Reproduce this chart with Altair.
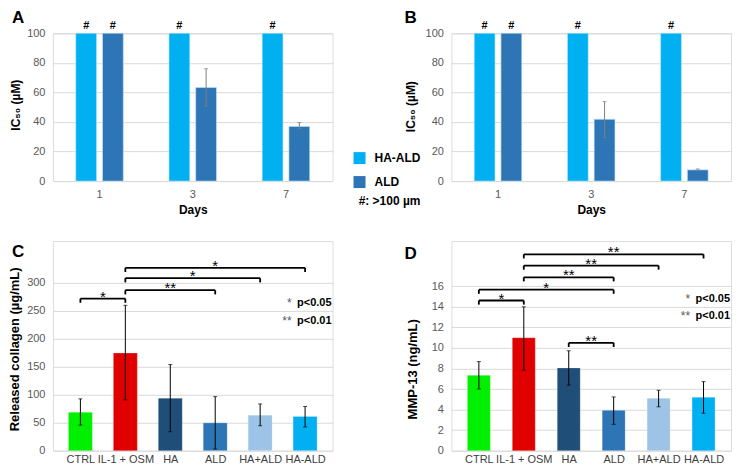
import json
import altair as alt
import pandas as pd

FONT = "Liberation Sans"

# ---------------- Panels A / B : IC50 ----------------
days = ["1", "3", "7"]
series = ["HA-ALD", "ALD"]
series_colors = ["#00B0F0", "#2E75B6"]
ic50_ticks = [0, 20, 40, 60, 80, 100]

a_haald = [100, 100, 100]
a_ald = [100, 63.3, 37.0]
a_ald_lo = [None, 50.8, 35.4]
a_ald_hi = [None, 76.0, 39.6]
a_flag_haald = ["#", "#", "#"]
a_flag_ald = ["#", "", ""]

b_haald = [100, 100, 100]
b_ald = [100, 41.8, 7.6]
b_ald_lo = [None, 29.6, 6.9]
b_ald_hi = [None, 53.8, 8.2]
b_flag_haald = ["#", "#", "#"]
b_flag_ald = ["#", "", ""]

# ---------------- Panels C / D : treatments ----------------
treatments = ["CTRL", "IL-1 + OSM", "HA", "ALD", "HA+ALD", "HA-ALD"]
treat_colors = ["#00F000", "#E00000", "#1F4E79", "#2E75B6", "#9DC3E6", "#00B0F0"]

collagen = [68.7, 174.6, 93.9, 49.8, 63.5, 61.2]
collagen_lo = [45.8, 91.0, 34.0, 3.0, 44.6, 42.4]
collagen_hi = [92.7, 260.0, 154.0, 96.7, 83.6, 79.0]
collagen_ticks = [0, 50, 100, 150, 200, 250, 300]

mmp13 = [7.33, 10.99, 8.05, 3.93, 5.10, 5.20]
mmp13_lo = [6.00, 7.83, 6.38, 2.57, 4.27, 3.65]
mmp13_hi = [8.67, 14.00, 9.72, 5.23, 5.88, 6.72]
mmp13_ticks = [0, 2, 4, 6, 8, 10, 12, 14, 16]

c_br_from = ["CTRL", "IL-1 + OSM", "IL-1 + OSM", "IL-1 + OSM"]
c_br_to = ["IL-1 + OSM", "ALD", "HA+ALD", "HA-ALD"]
c_br_level = [272, 287, 308.5, 327]
c_br_label = ["*", "**", "*", "*"]

d_br_from = ["CTRL", "CTRL", "IL-1 + OSM", "IL-1 + OSM", "IL-1 + OSM", "HA"]
d_br_to = ["IL-1 + OSM", "ALD", "ALD", "HA+ALD", "HA-ALD", "ALD"]
d_br_level = [14.61, 15.66, 16.87, 18.01, 19.1, 10.49]
d_br_label = ["*", "*", "**", "**", "**", "**"]

sig_marks = ["*", "**"]
sig_text = ["p<0.05", "p<0.01"]

W = 280
H_TOP = 148
H_BOT = 210


def letter_layer(letter, lx, ly):
    return alt.Chart(pd.DataFrame({"t": [letter]})).mark_text(
        align="left", baseline="alphabetic", fontSize=17, fontWeight="bold", font=FONT, color="black"
    ).encode(x=alt.value(lx), y=alt.value(ly), text="t:N")


def ic50_panel(haald, ald, lo, hi, f_haald, f_ald, letter, lx, ly, title_x, title_y, show_legend):
    rows = []
    for i, d in enumerate(days):
        rows.append(dict(day=d, series="HA-ALD", value=haald[i], flag=f_haald[i], lo=None, hi=None))
        rows.append(dict(day=d, series="ALD", value=ald[i], flag=f_ald[i], lo=lo[i], hi=hi[i]))
    df = pd.DataFrame(rows)
    base = alt.Chart(df)
    x = alt.X(
        "day:N", sort=days,
        scale=alt.Scale(paddingInner=0.49, paddingOuter=0.245),
        axis=alt.Axis(title="Days", labelAngle=0, labelFontSize=11, labelColor="#595959", labelFont=FONT,
                      labelPadding=7, ticks=False, domain=False, titleFontSize=12, titleFontWeight="bold",
                      titleFont=FONT, titleColor="black", titlePadding=5),
    )
    xo = alt.XOffset("series:N", sort=series, scale=alt.Scale(domain=series, paddingInner=0.222))
    if show_legend:
        legend = alt.Legend(
            orient="none", legendX=301, legendY=119, direction="vertical",
            title="#: >100 µm", titleOrient="bottom", titleAnchor="end", titleFontSize=12,
            titleFontWeight="bold", titleColor="black", titleFont=FONT, titlePadding=8,
            labelFontSize=12, labelFontWeight="bold", labelColor="black", labelFont=FONT,
            symbolType="square", symbolSize=144, symbolStrokeWidth=0, labelOffset=9, rowPadding=12,
        )
    else:
        legend = None
    bars = base.mark_bar(stroke="#BFE6FA", strokeWidth=0.6).encode(
        x=x, xOffset=xo,
        y=alt.Y("value:Q", scale=alt.Scale(domain=[0, 100], nice=False),
                axis=alt.Axis(values=ic50_ticks, tickCount=len(ic50_ticks), title="IC₅₀ (µM)",
                              titleX=title_x, titleY=title_y,
                              titleBaseline="middle", titleFontSize=12, titleFontWeight="bold",
                              titleFont=FONT, titleColor="black", labelFontSize=11, labelColor="#595959",
                              labelFont=FONT, labelPadding=8, labelOverlap=False, ticks=False, domain=False,
                              gridColor="#D9D9D9", gridWidth=1)),
        color=alt.Color("series:N", sort=series, scale=alt.Scale(domain=series, range=series_colors),
                        legend=legend),
    )
    err = base.transform_filter("isValid(datum.lo)")
    rule = err.mark_rule(color="#7F7F7F", strokeWidth=1).encode(
        x="day:N", xOffset=xo, y="lo:Q", y2="hi:Q")
    cap_lo = err.mark_tick(color="#7F7F7F", thickness=1, size=4, orient="horizontal").encode(
        x="day:N", xOffset=xo, y="lo:Q")
    cap_hi = err.mark_tick(color="#7F7F7F", thickness=1, size=4, orient="horizontal").encode(
        x="day:N", xOffset=xo, y="hi:Q")
    flags = base.transform_filter("datum.flag == '#'").mark_text(
        baseline="bottom", dy=-2, fontSize=11, fontWeight="bold", font=FONT, color="black"
    ).encode(x="day:N", xOffset=xo, y="value:Q", text="flag:N")
    return alt.layer(bars, rule, cap_lo, cap_hi, flags, letter_layer(letter, lx, ly)).properties(
        width=W, height=H_TOP)


def treat_panel(vals, lo, hi, br_from, br_to, br_level, br_label, y_max, ticks, title, title_x, title_y,
                drop, letter, lx, ly, sig_y, bar_size):
    df = pd.DataFrame({"treat": treatments, "idx": list(range(len(treatments))), "value": vals,
                       "lo": lo, "hi": hi, "col": treat_colors})
    label_expr = json.dumps(treatments) + "[datum.value]"
    x = alt.X("idx:Q", scale=alt.Scale(domain=[-0.5, len(treatments) - 0.5], nice=False, zero=False),
              axis=alt.Axis(values=list(range(len(treatments))), tickCount=len(treatments),
                            labelExpr=label_expr, title=None,
                            grid=False, ticks=False, domain=False, labelFlush=False, labelOverlap=False,
                            labelFontSize=11, labelColor="#404040", labelFont=FONT, labelPadding=3))
    y = alt.Y("value:Q", scale=alt.Scale(domain=[0, y_max], nice=False),
              axis=alt.Axis(values=ticks, tickCount=len(ticks), title=title, titleX=title_x, titleY=title_y,
                            titleBaseline="middle",
                            titleFontSize=13, titleFontWeight="bold", titleFont=FONT, titleColor="black",
                            labelFontSize=11, labelColor="#595959", labelFont=FONT, labelPadding=8,
                            labelOverlap=False, ticks=False, domain=False, gridColor="#D9D9D9", gridWidth=1))
    base = alt.Chart(df)
    bars = base.mark_bar(size=bar_size, stroke="#FFFFFF", strokeOpacity=0.4, strokeWidth=0.6).encode(
        x=x, y=y, color=alt.Color("col:N", scale=None))
    rule = base.mark_rule(color="black", strokeWidth=1).encode(x="idx:Q", y="lo:Q", y2="hi:Q")
    cap_lo = base.mark_tick(color="black", thickness=1, size=4, orient="horizontal").encode(x="idx:Q", y="lo:Q")
    cap_hi = base.mark_tick(color="black", thickness=1, size=4, orient="horizontal").encode(x="idx:Q", y="hi:Q")

    bdf = pd.DataFrame({
        "a": [treatments.index(t) for t in br_from],
        "b": [treatments.index(t) for t in br_to],
        "level": br_level, "label": br_label,
    })
    bdf["mid"] = (bdf["a"] + bdf["b"]) / 2
    bdf["low"] = bdf["level"] - drop
    bb = alt.Chart(bdf)
    hline = bb.mark_rule(color="black", strokeWidth=1.8).encode(x="a:Q", x2="b:Q", y="level:Q")
    vl = bb.mark_rule(color="black", strokeWidth=1.8).encode(x="a:Q", y="level:Q", y2="low:Q")
    vr = bb.mark_rule(color="black", strokeWidth=1.8).encode(x="b:Q", y="level:Q", y2="low:Q")
    stars = bb.mark_text(baseline="alphabetic", dy=3, fontSize=15, font=FONT, color="black").encode(
        x="mid:Q", y="level:Q", text="label:N")

    sdf = pd.DataFrame({"m": sig_marks, "t": sig_text, "yy": sig_y})
    sig_t = alt.Chart(sdf).mark_text(align="right", baseline="middle", fontSize=11, fontWeight="bold",
                                     font=FONT, color="black").encode(
        x=alt.value(W - 1), y=alt.Y("yy:Q", scale=None), text="t:N")
    sig_m = alt.Chart(sdf).mark_text(align="right", baseline="middle", fontSize=12, font=FONT,
                                     color="#595959").encode(
        x=alt.value(W - 41), y=alt.Y("yy:Q", scale=None), text="m:N")
    return alt.layer(bars, rule, cap_lo, cap_hi, hline, vl, vr, stars, sig_t, sig_m,
                     letter_layer(letter, lx, ly)).properties(width=W, height=H_BOT)


A = ic50_panel(a_haald, a_ald, a_ald_lo, a_ald_hi, a_flag_haald, a_flag_ald, "A", -41, -10, -37, 71.5, True)
B = ic50_panel(b_haald, b_ald, b_ald_lo, b_ald_hi, b_flag_haald, b_flag_ald, "B", -47, -10, -41, 73, False)
C = treat_panel(collagen, collagen_lo, collagen_hi, c_br_from, c_br_to, c_br_level, c_br_label, 375,
                collagen_ticks, "Released collagen (µg/mL)", -38, 108, 7.5, "C", -41, 16, [62, 80], 24)
D = treat_panel(mmp13, mmp13_lo, mmp13_hi, d_br_from, d_br_to, d_br_level, d_br_label, 20.4,
                mmp13_ticks, "MMP-13 (ng/mL)", -38.5, 128, 0.4, "D", -47, 18, [58, 75], 23)

chart = alt.concat(A, B, C, D, columns=2, spacing={"row": 60, "column": 119}, bounds="flush").resolve_scale(
    color="independent", x="independent", y="independent", xOffset="independent"
).resolve_legend(color="independent").properties(
    padding={"top": 0, "left": 0, "right": 0, "bottom": 0}
).configure_view(stroke=None).configure(font=FONT, background="white")

chart.save("out.html", embed_options={"renderer": "svg", "actions": False})
